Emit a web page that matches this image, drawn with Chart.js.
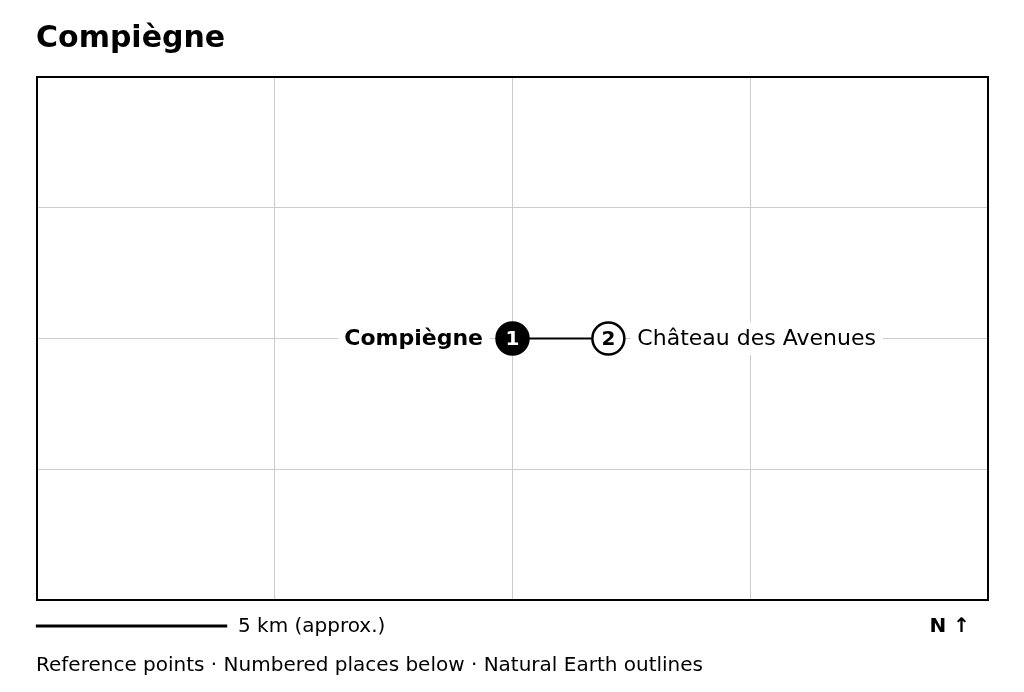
<!DOCTYPE html>
<html><head><meta charset="utf-8">
<script src="https://cdn.jsdelivr.net/npm/chart.js@4"></script>
<style>html,body{margin:0;padding:0;background:#fff}canvas{display:block}</style>
</head><body><canvas id="c" width="1024" height="692"></canvas>
<script>
const titleText = "Compiègne";
const placeNames = ["Compiègne", "Château des Avenues"];
const placeNumbers = ["1", "2"];
const eastKm = [0, 2.52];
const northKm = [0, 0];
const xGridKm = [-12.5, -6.25, 0, 6.25, 12.5];
const yGridKm = [-6.875, -3.44, 0, 3.44, 6.875];
const scaleBarKm = [-12.53, -7.5];
const scaleBarRowKm = -7.56;
const scaleLabel = "5 km (approx.)";
const northLabel = "N ↑";
const footnote = "Reference points · Numbered places below · Natural Earth outlines";
const F = '"DejaVu Sans"';

const mapText = {
  id: 'mapText',
  beforeDatasetsDraw(chart) {
    const {ctx} = chart;
    ctx.save();
    ctx.fillStyle = '#fff';
    ctx.fillRect(338, 322, 152, 33);
    ctx.fillRect(631, 322, 252, 33);
    ctx.restore();
  },
  afterDatasetsDraw(chart) {
    const {ctx, chartArea: a} = chart, m = chart.getDatasetMeta(0).data;
    ctx.save();
    ctx.strokeStyle = '#000'; ctx.lineWidth = 2;
    ctx.strokeRect(a.left, a.top, a.right - a.left, a.bottom - a.top);
    ctx.textBaseline = 'middle';
    ctx.textAlign = 'center';
    ctx.font = 'bold 20px ' + F;
    ctx.fillStyle = '#fff'; ctx.fillText(placeNumbers[0], m[0].x, m[0].y + 1);
    ctx.fillStyle = '#000'; ctx.fillText(placeNumbers[1], m[1].x, m[1].y + 1);
    ctx.textAlign = 'right';
    ctx.font = 'bold 22px ' + F;
    ctx.fillText(placeNames[0], m[0].x - 29.5, m[0].y + 0.5);
    ctx.textAlign = 'left';
    ctx.font = '22px ' + F;
    ctx.fillText(placeNames[1], m[1].x + 29, m[1].y + 0.5);
    ctx.font = '20px ' + F;
    ctx.fillText(scaleLabel, 238, 626.5);
    ctx.fillText(footnote, 36, 665.5);
    ctx.textAlign = 'right';
    ctx.font = 'bold 20px ' + F;
    ctx.fillText(northLabel, 970, 626.5);
    ctx.restore();
  }
};

new Chart(document.getElementById('c'), {
  type: 'scatter',
  data: {
    datasets: [
      {
        data: eastKm.map((x, i) => ({x, y: northKm[i]})),
        showLine: true, borderColor: '#000', borderWidth: 2,
        pointRadius: 16, pointHoverRadius: 16, pointBorderWidth: 2.5,
        pointBorderColor: '#000', pointBackgroundColor: ['#000', '#fff'], clip: false
      },
      {
        data: scaleBarKm.map(x => ({x, y: scaleBarRowKm})),
        showLine: true, borderColor: '#000', borderWidth: 3, pointRadius: 0, clip: false
      }
    ]
  },
  options: {
    responsive: false, animation: false, devicePixelRatio: 1,
    layout: {padding: {left: 36, right: 36, top: 0, bottom: 92}},
    plugins: {
      legend: {display: false}, tooltip: {enabled: false},
      title: {display: true, text: titleText, align: 'start', color: '#000',
        font: {family: 'DejaVu Sans', size: 30, weight: 'bold'}, padding: {top: 21, bottom: 20}}
    },
    scales: {
      x: {type: 'linear', min: xGridKm[0], max: xGridKm[4],
        afterBuildTicks(s) { s.ticks = xGridKm.map(value => ({value})); },
        ticks: {display: false}, border: {display: false},
        grid: {color: '#cccccc', lineWidth: 1, drawTicks: false}},
      y: {type: 'linear', min: yGridKm[0], max: yGridKm[4],
        afterBuildTicks(s) { s.ticks = yGridKm.map(value => ({value})); },
        afterFit(s) { s.width = 1; },
        ticks: {display: false}, border: {display: false},
        grid: {color: '#cccccc', lineWidth: 1, drawTicks: false}}
    }
  },
  plugins: [mapText]
});
</script></body></html>
